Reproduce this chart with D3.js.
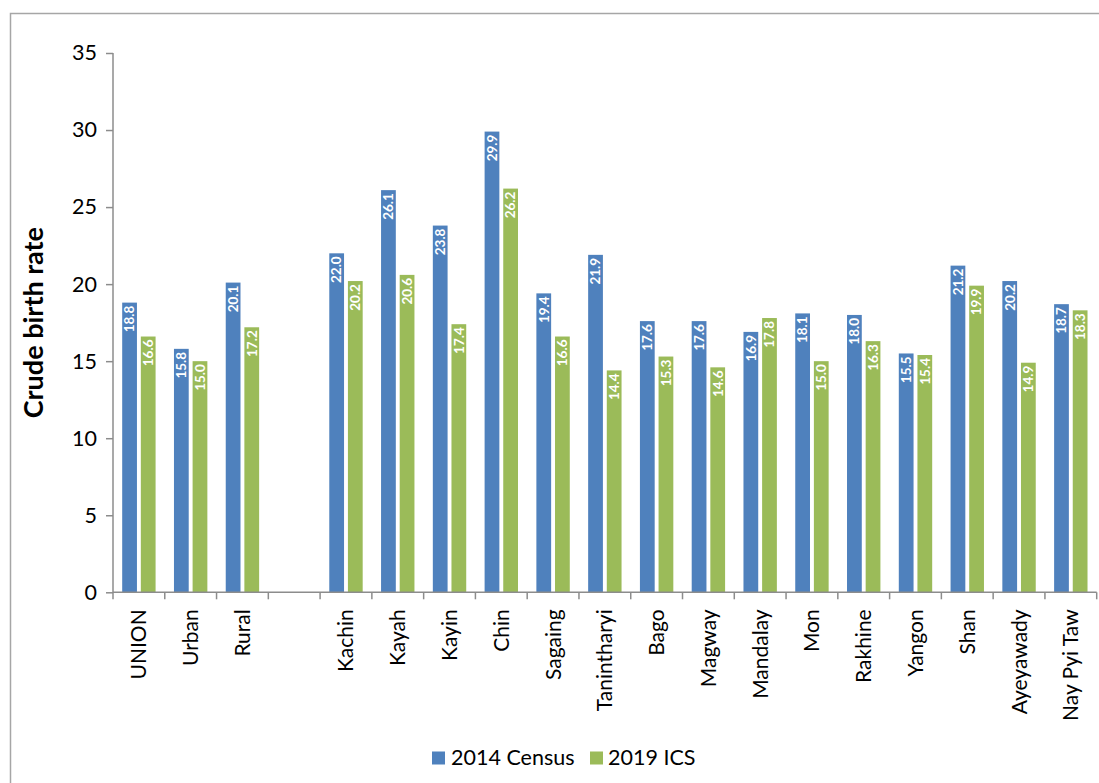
<!DOCTYPE html>
<html><head><meta charset="utf-8">
<script src="https://cdn.jsdelivr.net/npm/d3@7"></script>
<style>body{margin:0;background:#fff}svg{display:block;font-family:Lato,"Open Sans",sans-serif}</style>
</head><body><svg id="c" width="1099" height="783"></svg>
<script>
const categories=["UNION","Urban","Rural","","Kachin","Kayah","Kayin","Chin","Sagaing","Tanintharyi","Bago","Magway","Mandalay","Mon","Rakhine","Yangon","Shan","Ayeyawady","Nay Pyi Taw"];
const census2014=[18.8,15.8,20.1,null,22.0,26.1,23.8,29.9,19.4,21.9,17.6,17.6,16.9,18.1,18.0,15.5,21.2,20.2,18.7];
const ics2019=[16.6,15.0,17.2,null,20.2,20.6,17.4,26.2,16.6,14.4,15.3,14.6,17.8,15.0,16.3,15.4,19.9,14.9,18.3];
const seriesNames=["2014 Census","2019 ICS"];
const colors=["#4F81BD","#9BBB59"];
const yTicks=[0,5,10,15,20,25,30,35];

const svg=d3.select("#c");
svg.append("path").attr("d","M10.5,783 V13.5 H1099").attr("fill","none").attr("stroke","#a6a6a6").attr("stroke-width",1.5);

const L=113,R=1096.7,T=53,B=592.3;
const x=d3.scaleBand().domain(categories.map((c,i)=>i)).range([L,R]).paddingInner(0).paddingOuter(0);
const y=d3.scaleLinear().domain([0,35]).range([B,T]);
const bw=x.bandwidth();
const barW=bw*0.285, gap=bw*0.075, off=(bw-2*barW-gap)/2;

const series=[census2014,ics2019];
series.forEach((vals,s)=>{
  const g=svg.append("g");
  vals.forEach((v,i)=>{
    if(v==null)return;
    const bx=x(i)+off+s*(barW+gap);
    g.append("rect").attr("x",bx).attr("y",y(v)).attr("width",barW).attr("height",B-y(v))
      .attr("fill",colors[s]);
    g.append("text").attr("transform",`translate(${bx+barW/2+4.8},${y(v)+3}) rotate(-90)`)
      .attr("text-anchor","end").attr("fill","#fff").attr("font-weight","bold").attr("font-size",13.5)
      .text(v.toFixed(1));
  });
});

const ya=svg.append("g").attr("transform",`translate(${L},0)`).call(d3.axisLeft(y).tickValues(yTicks).tickSize(7).tickPadding(9).tickFormat(d3.format("d")));
ya.select(".domain").attr("stroke","#8c8c8c").attr("stroke-width",1.5).attr("d",`M0,${T}V${B}`);
ya.selectAll(".tick line").attr("stroke","#8c8c8c").attr("stroke-width",1.5);
ya.selectAll(".tick text").attr("font-size",21.5).attr("fill","#000").attr("font-family","Lato,'Open Sans',sans-serif");

const xa=svg.append("g").attr("transform",`translate(0,${B})`);
xa.append("line").attr("x1",L).attr("x2",R).attr("stroke","#8c8c8c").attr("stroke-width",1.5);
const tickPos=categories.map((c,i)=>x(i)).concat([R]);
xa.selectAll("line.t").data(tickPos).join("line").attr("class","t").attr("x1",d=>d).attr("x2",d=>d).attr("y1",0).attr("y2",7).attr("stroke","#8c8c8c").attr("stroke-width",1.5);
xa.selectAll("text").data(categories).join("text")
  .attr("transform",(d,i)=>`translate(${x(i)+bw/2+7.5},17) rotate(-90)`)
  .attr("text-anchor","end").attr("font-size",21).attr("fill","#000").text(d=>d);

svg.append("text").attr("transform",`translate(43,${(T+B)/2}) rotate(-90)`).attr("text-anchor","middle")
  .attr("font-size",27).attr("font-weight","bold").attr("fill","#000").text("Crude birth rate");

const leg=[{x:432,tx:451},{x:590,tx:608}];
seriesNames.forEach((n,i)=>{
  svg.append("rect").attr("x",leg[i].x).attr("y",751.5).attr("width",13).attr("height",13).attr("fill",colors[i]);
  svg.append("text").attr("x",leg[i].tx).attr("y",765).attr("font-size",21.5).attr("fill","#000").text(n);
});
</script></body></html>
